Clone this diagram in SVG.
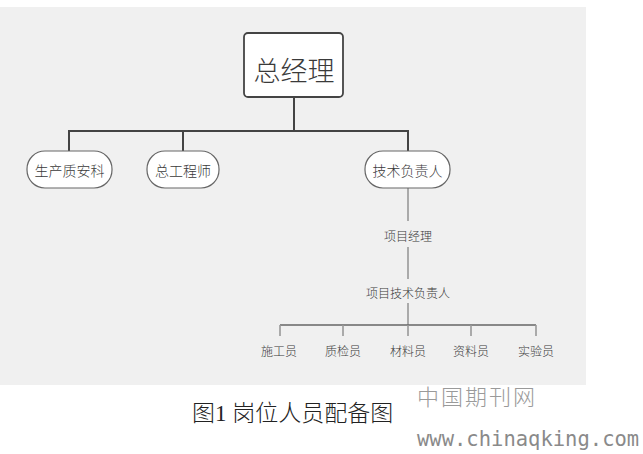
<svg xmlns="http://www.w3.org/2000/svg" width="643" height="454" viewBox="0 0 643 454">
<style>
.t{font-family:"Noto Sans CJK SC","Noto Sans",sans-serif;fill:#3a3a3a;text-anchor:middle;dominant-baseline:central;font-weight:300}
.pill{fill:#ffffff;stroke:#666;stroke-width:1.2}
.c1{stroke:#444;stroke-width:2;fill:none}
.c2{stroke:#999;stroke-width:1.6;fill:none}
.c3{stroke:#666;stroke-width:1.6;fill:none}
</style>
<rect x="0" y="0" width="643" height="454" fill="#ffffff"/>
<rect x="0" y="7" width="586" height="378" fill="#f0f0f0"/>
<g id="connectors">
<path class="c1" d="M294 97V131M69 131H408M69 130V151M183 130V151M408 130V151"/>
<path class="c2" d="M408 188V221M408 247V279M408 303V325"/>
<path class="c3" d="M280 325H536"/>
<path class="c2" d="M280 325V336M343 325V336M408 325V336M471 325V336M536 325V336"/>
</g>
<g id="gm">
<rect x="244" y="33" width="99" height="64" rx="4" fill="#fff" stroke="#444" stroke-width="1.8"/>
<text class="t" x="294" y="69" font-size="27">总经理</text>
</g>
<g id="n1">
<rect class="pill" x="27" y="151" width="85" height="37" rx="18"/>
<text class="t" x="69.5" y="170" font-size="14">生产质安科</text>
</g>
<g id="n2">
<rect class="pill" x="147" y="151" width="72" height="37" rx="18"/>
<text class="t" x="183" y="170" font-size="14">总工程师</text>
</g>
<g id="n3">
<rect class="pill" x="365" y="151" width="85" height="37" rx="18"/>
<text class="t" x="407.5" y="170" font-size="14">技术负责人</text>
</g>
<g id="n4"><text class="t" x="408" y="235" font-size="12">项目经理</text></g>
<g id="n5"><text class="t" x="408" y="292" font-size="12">项目技术负责人</text></g>
<g id="n6"><text class="t" x="279" y="350" font-size="12">施工员</text></g>
<g id="n7"><text class="t" x="343" y="350" font-size="12">质检员</text></g>
<g id="n8"><text class="t" x="408" y="350" font-size="12">材料员</text></g>
<g id="n9"><text class="t" x="471" y="350" font-size="12">资料员</text></g>
<g id="n10"><text class="t" x="536" y="350" font-size="12">实验员</text></g>
<text x="192" y="421" font-size="23" font-family="'Liberation Serif','Noto Sans CJK SC',serif" fill="#222" font-weight="300">图1 岗位人员配备图</text>
<text x="417" y="405" font-size="22" font-family="'Liberation Serif','Noto Sans CJK SC',serif" fill="#9a9a9a" letter-spacing="2" font-weight="300">中国期刊网</text>
<text x="417" y="446" font-size="20.5" font-family="'DejaVu Sans Mono',monospace" fill="#8a8a8a">www.chinaqking.com</text>
</svg>
